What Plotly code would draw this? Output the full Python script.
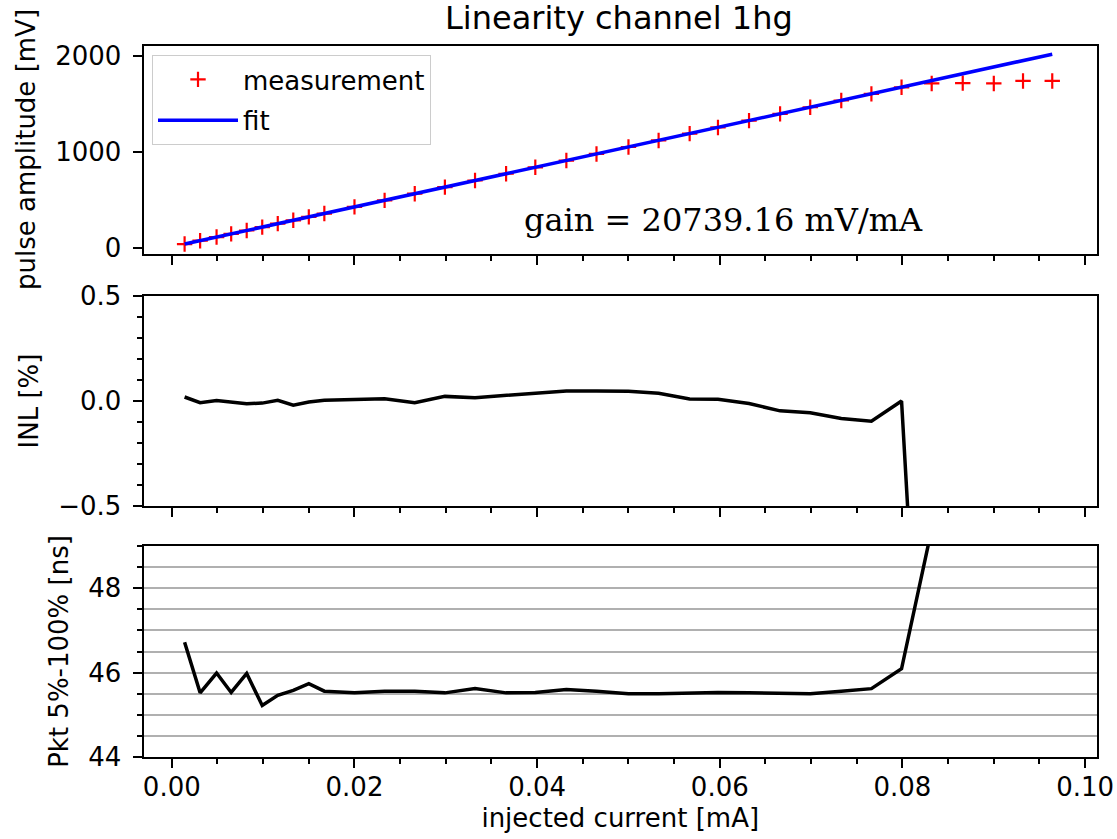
import plotly.graph_objects as go

# ---------------- data ----------------
current_mA = [0.0014, 0.0031, 0.0049, 0.0065, 0.0082, 0.0099, 0.0116, 0.0133, 0.0150, 0.0167,
              0.0200, 0.0233, 0.0266, 0.0299, 0.0332, 0.0366, 0.0398, 0.0432, 0.0465, 0.0500,
              0.0533, 0.0567, 0.0598, 0.0632, 0.0666, 0.0699, 0.0733, 0.0766, 0.0799, 0.0832,
              0.0866, 0.0900, 0.0932, 0.0964]

amplitude_mV = [44, 79, 117, 150, 185, 220, 256, 291, 326, 361,
                430, 498, 567, 635, 704, 774, 841, 911, 980, 1052,
                1120, 1191, 1255, 1326, 1396, 1465, 1535, 1604, 1672, 1712,
                1715, 1712, 1738, 1738]

fit_x = [0.0014, 0.0964]
fit_y = [44, 2016]

inl_pct = [0.019, -0.008, 0.002, -0.005, -0.013, -0.010, 0.003, -0.020, -0.005, 0.003,
           0.008, 0.011, -0.008, 0.022, 0.016, 0.026, 0.035, 0.048, 0.048, 0.047,
           0.037, 0.010, 0.008, -0.012, -0.047, -0.056, -0.083, -0.096, 0.000, -1.6,
           -4.5, -7.8, -9.5, -12.5]

pkt_ns = [46.72, 45.52, 45.99, 45.53, 45.98, 45.22, 45.46, 45.58, 45.74, 45.56,
          45.52, 45.56, 45.56, 45.52, 45.62, 45.52, 45.53, 45.60, 45.56, 45.50,
          45.50, 45.52, 45.53, 45.52, 45.50, 45.50, 45.56, 45.62, 46.09, 49.4,
          52.0, 55.0, 57.0, 60.0]

gain_text = "gain = 20739.16 mV/mA"
title_text = "Linearity channel 1hg"

# ---------------- layout helpers ----------------
W, H = 1117, 839
def px_x(p):
    return p / W
def px_y(p):
    return 1 - p / H

x_dom = [px_x(143.5), px_x(1097)]
dom1 = [px_y(253.5), px_y(45.5)]
dom2 = [px_y(506), px_y(296)]
dom3 = [px_y(757), px_y(546)]

FONT = "DejaVu Sans"
FS = 26

fig = go.Figure()

fig.add_trace(go.Scatter(
    x=current_mA, y=amplitude_mV, mode="markers", name="measurement",
    marker=dict(symbol="cross-thin", size=11, color="red", line=dict(color="red", width=2.2)),
    xaxis="x", yaxis="y", legendgroup="a"))
fig.add_trace(go.Scatter(
    x=fit_x, y=fit_y, mode="lines", name="fit",
    line=dict(color="blue", width=3.5),
    xaxis="x", yaxis="y", legendgroup="b"))
fig.add_trace(go.Scatter(
    x=current_mA, y=inl_pct, mode="lines", showlegend=False,
    line=dict(color="black", width=3.5), xaxis="x2", yaxis="y2"))
fig.add_trace(go.Scatter(
    x=current_mA, y=pkt_ns, mode="lines", showlegend=False,
    line=dict(color="black", width=3.5), xaxis="x3", yaxis="y3"))

xr = [-0.0031, 0.1013]
common_x = dict(range=xr, domain=x_dom, showline=True, linecolor="black", linewidth=2,
                mirror=True, ticks="outside", ticklen=9, tickwidth=2, tickcolor="black",
                tick0=0, dtick=0.02, showgrid=False, zeroline=False, automargin=False,
                minor=dict(ticks="outside", ticklen=5, tickwidth=1.5, tickcolor="black",
                           tick0=0, dtick=0.005, showgrid=False),
                tickfont=dict(family=FONT, size=FS, color="black"))
common_y = dict(showline=True, linecolor="black", linewidth=2, mirror=True,
                ticks="outside", ticklen=9, tickwidth=2, tickcolor="black", automargin=False,
                zeroline=False, tickfont=dict(family=FONT, size=FS, color="black"),
                ticklabelstandoff=6)

fig.update_layout(
    width=W, height=H,
    margin=dict(l=0, r=0, t=0, b=0, autoexpand=False),
    paper_bgcolor="white", plot_bgcolor="white",
    font=dict(family=FONT, size=FS, color="black"),
    xaxis=dict(common_x, anchor="y", showticklabels=False),
    xaxis2=dict(common_x, anchor="y2", showticklabels=False, matches="x"),
    xaxis3=dict(common_x, anchor="y3", showticklabels=True, matches="x", tickformat=".2f",
                ticklabelstandoff=-3,
                title=dict(text="injected current [mA]", font=dict(family=FONT, size=FS), standoff=8)),
    yaxis=dict(common_y, domain=dom1, anchor="x", range=[-54, 2106], tickvals=[0, 1000, 2000],
               tickformat="d", showgrid=False,
               title=dict(text="pulse amplitude [mV]", font=dict(family=FONT, size=FS), standoff=12)),
    yaxis2=dict(common_y, domain=dom2, anchor="x2", range=[-0.5, 0.5], tick0=-0.5, dtick=0.5,
                tickformat=".1f", showgrid=False,
                minor=dict(ticks="outside", ticklen=5, tickwidth=1.5, tickcolor="black",
                           tick0=0, dtick=0.1, showgrid=False),
                title=dict(text="INL [%]", font=dict(family=FONT, size=FS), standoff=12)),
    yaxis3=dict(common_y, domain=dom3, anchor="x3", range=[44, 49], tick0=44, dtick=2,
                showgrid=True, gridcolor="#b0b0b0", gridwidth=1.5,
                minor=dict(ticks="outside", ticklen=5, tickwidth=1.5, tickcolor="black",
                           tick0=44, dtick=0.5, showgrid=True, gridcolor="#b0b0b0", gridwidth=1.5),
                title=dict(text="Pkt 5%-100% [ns]", font=dict(family=FONT, size=FS), standoff=12)),
    legend=dict(x=px_x(152), y=px_y(55), xanchor="left", yanchor="top",
                bgcolor="rgba(255,255,255,0.8)", bordercolor="#cccccc", borderwidth=1,
                font=dict(family=FONT, size=FS, color="black"),
                traceorder="grouped", tracegroupgap=4, itemwidth=80),
    showlegend=True,
)

fig.add_annotation(text=title_text, xref="paper", yref="paper",
                   x=px_x(619), y=px_y(18), xanchor="center", yanchor="middle",
                   showarrow=False, font=dict(family=FONT, size=32, color="black"))
fig.add_annotation(text=gain_text, xref="paper", yref="paper",
                   x=px_x(522), y=px_y(220), xanchor="left", yanchor="middle",
                   showarrow=False, font=dict(family="DejaVu Serif", size=32, color="black"))

fig.write_html("out.html")
